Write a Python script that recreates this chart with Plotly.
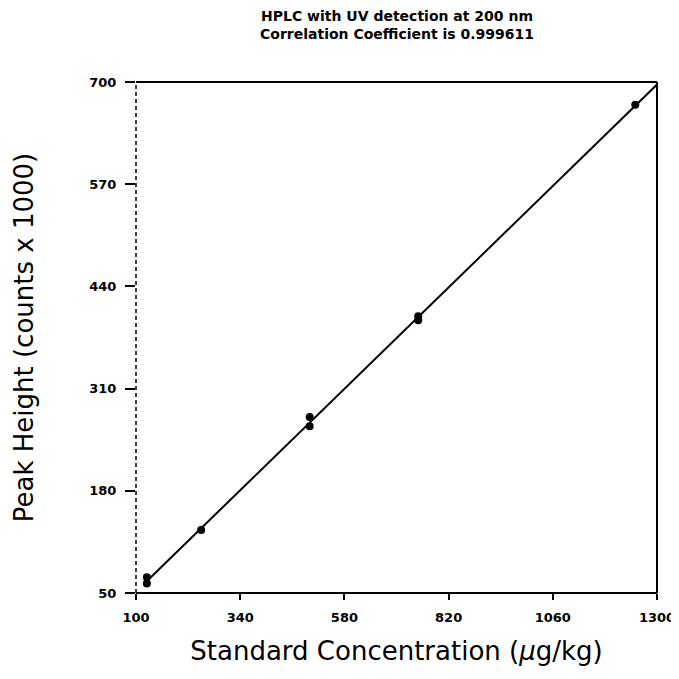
import numpy as np
import plotly.graph_objects as go

# Data
concentration = [125, 125, 250, 500, 500, 750, 750, 1250]
peak_height = [62, 70, 130, 262, 274, 397, 402, 671]

x_ticks = [100, 340, 580, 820, 1060, 1300]
x_ticklabels = ["100", "340", "580", "820", "1060", "1300"]
y_ticks = [50, 180, 310, 440, 570, 700]
y_ticklabels = ["50", "180", "310", "440", "570", "700"]

title_text = "HPLC with UV detection at 200 nm<br>Correlation Coefficient is 0.999611"
x_title = "Standard Concentration (<i>μ</i>g/kg)"
y_title = "Peak Height (counts x 1000)"

# Least-squares regression line from the data
a, b = np.polyfit(concentration, peak_height, 1)
x0 = max(min(concentration) - 8, (50 - b) / a)
x1 = min(1300, (700 - b) / a)
line_x = [x0, x1]
line_y = [a * x0 + b, a * x1 + b]

FONT = "DejaVu Sans"

fig = go.Figure()
fig.add_trace(go.Scatter(x=line_x, y=line_y, mode="lines",
                         line=dict(color="black", width=2), showlegend=False))
fig.add_trace(go.Scatter(x=concentration, y=peak_height, mode="markers",
                         marker=dict(color="black", size=8), showlegend=False))

fig.update_layout(
    width=679, height=679,
    margin=dict(l=128, r=27, t=74, b=94),
    paper_bgcolor="white", plot_bgcolor="white",
    font=dict(family=FONT, color="black"),
)
fig.add_annotation(text=title_text, xref="paper", yref="paper", x=0.5, y=1.0,
                   xanchor="center", yanchor="bottom", yshift=38, showarrow=False,
                   font=dict(family=FONT, size=14, color="black", weight="bold"))

fig.update_xaxes(range=[100, 1300], tickvals=x_ticks, ticktext=x_ticklabels,
                 showgrid=False, zeroline=False, showline=False,
                 ticks="outside", ticklen=6, tickwidth=1.5, tickcolor="black",
                 ticklabelstandoff=6,
                 tickfont=dict(family=FONT, size=13, color="black", weight="bold"),
                 title=dict(text=x_title, font=dict(family=FONT, size=26, color="black"), standoff=18))
fig.update_yaxes(range=[50, 700], tickvals=y_ticks, ticktext=y_ticklabels,
                 showgrid=False, zeroline=False, showline=False,
                 ticks="outside", ticklen=10, tickwidth=1.5, tickcolor="black",
                 ticklabelstandoff=6,
                 tickfont=dict(family=FONT, size=13, color="black", weight="bold"),
                 title=dict(text=y_title, font=dict(family=FONT, size=26, color="black"), standoff=48))

# Frame: solid bottom, top, right; dashed left edge as in the scan
fig.add_shape(type="line", xref="paper", yref="paper", x0=0, x1=1, y0=0, y1=0,
              line=dict(color="black", width=2))
fig.add_shape(type="line", xref="paper", yref="paper", x0=0, x1=1, y0=1, y1=1,
              line=dict(color="black", width=2))
fig.add_shape(type="line", xref="paper", yref="paper", x0=1, x1=1, y0=0, y1=1,
              line=dict(color="black", width=2))
fig.add_shape(type="line", xref="paper", yref="paper", x0=0, x1=0, y0=0, y1=1,
              line=dict(color="black", width=1.5, dash="4px,3px"))

fig.write_html("out.html")
